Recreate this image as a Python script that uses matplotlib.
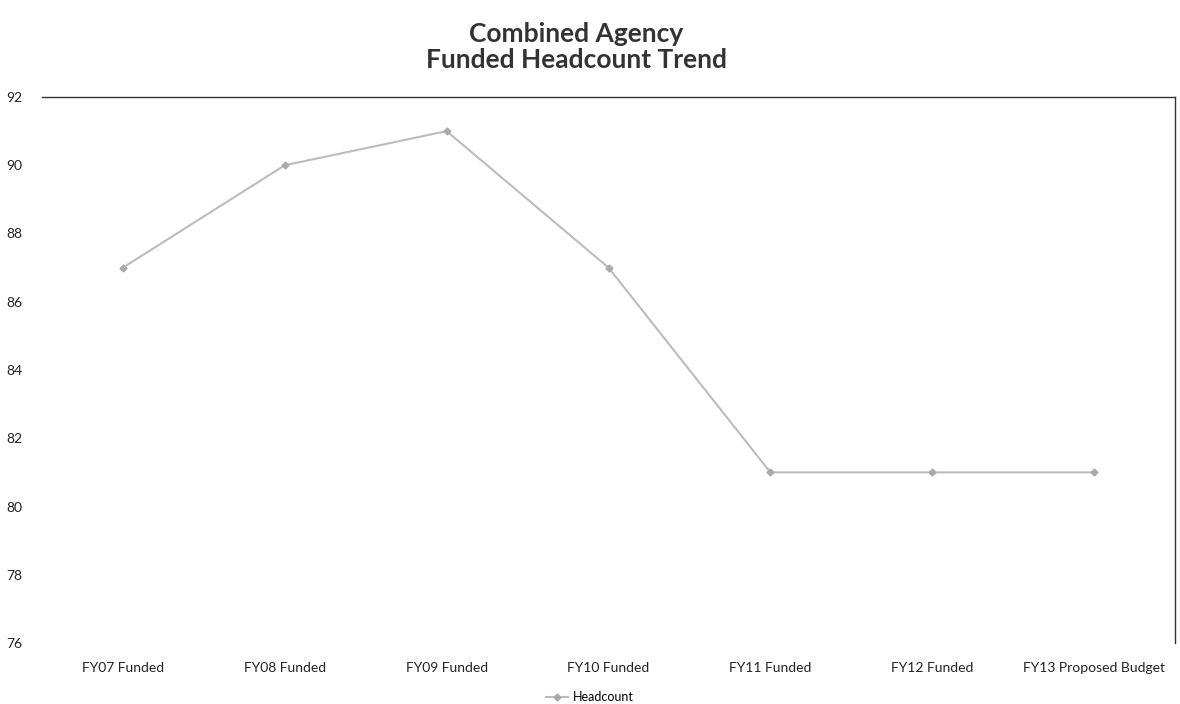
import matplotlib
matplotlib.use('Agg')
import matplotlib.pyplot as plt

plt.rcParams['font.family'] = ['Lato', 'DejaVu Sans']

# Funded headcount by fiscal year
years = ['FY07 Funded', 'FY08 Funded', 'FY09 Funded', 'FY10 Funded',
         'FY11 Funded', 'FY12 Funded', 'FY13 Proposed Budget']
headcount = [87, 90, 91, 87, 81, 81, 81]

fig = plt.figure(figsize=(11.8, 7.04), dpi=100)
ax = fig.add_axes([42 / 1180, 1 - 643 / 704, (1175 - 42) / 1180, (643 - 97) / 704])

x = list(range(len(years)))
ax.plot(x, headcount, color='#bcbcbc', linewidth=1.5, marker='D', markersize=3.5,
        markerfacecolor='#aaaaaa', markeredgecolor='#aaaaaa', label='Headcount')

ax.set_xlim(-0.5, len(years) - 0.5)
ax.set_ylim(76, 92)
ax.set_yticks(range(76, 93, 2))
ax.set_xticks(x)
ax.set_xticklabels(years)
ax.tick_params(axis='both', length=0, labelsize=10, colors='#222222')
ax.tick_params(axis='y', pad=14)
ax.tick_params(axis='x', pad=14)

for side in ['left', 'bottom']:
    ax.spines[side].set_visible(False)
for side in ['top', 'right']:
    ax.spines[side].set_color('#333333')
    ax.spines[side].set_linewidth(1.0)

fig.text(576 / 1180, 1 - 47 / 704, 'Combined Agency\nFunded Headcount Trend', ha='center', va='center',
         fontsize=19, fontweight='bold', color='#333333', linespacing=1.15)

fig.legend(loc='center', bbox_to_anchor=(590 / 1180, 1 - 697 / 704), frameon=False,
           fontsize=9, handlelength=1.8, handletextpad=0.4, borderpad=0)

fig.savefig('out.png', dpi=100, facecolor='white')
